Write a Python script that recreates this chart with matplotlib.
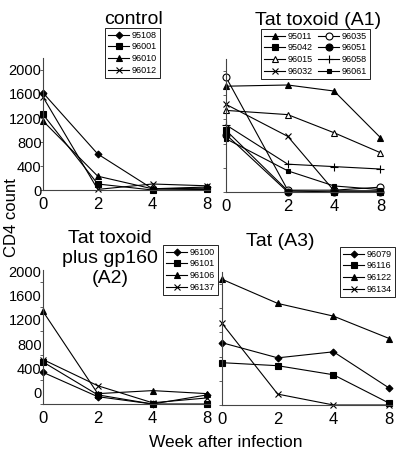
import matplotlib
matplotlib.use("Agg")
import matplotlib.pyplot as plt
from matplotlib.transforms import ScaledTranslation

plt.rcParams['font.family'] = ['Liberation Sans', 'DejaVu Sans']

weeks = ['0', '2', '4', '8']
yticks = [0, 400, 800, 1200, 1600, 2000]

# control
control_ids = ['95108', '96001', '96010', '96012']
c_95108 = [1620, 600, 20, 50]
c_96001 = [1260, 100, 0, 10]
c_96010 = [1150, 230, 20, 30]
c_96012 = [1550, 10, 100, 70]

# Tat toxoid (A1)
a1_ids = ['95011', '95042', '96015', '96032', '96035', '96051', '96058', '96061']
a1_95011 = [1750, 1770, 1670, 900]
a1_95042 = [1020, 20, 0, 0]
a1_96015 = [1350, 1280, 980, 650]
a1_96032 = [1450, 920, 20, 20]
a1_96035 = [1900, 30, 30, 80]
a1_96051 = [950, 0, 0, 0]
a1_96058 = [1110, 460, 420, 380]
a1_96061 = [880, 350, 100, 40]

# Tat toxoid plus gp160 (A2)
a2_ids = ['96100', '96101', '96106', '96137']
a2_96100 = [520, 120, 0, 150]
a2_96101 = [690, 150, 0, 0]
a2_96106 = [1520, 170, 220, 170]
a2_96137 = [730, 300, 20, 100]

# Tat (A3)
a3_ids = ['96079', '96116', '96122', '96134']
a3_96079 = [1030, 780, 880, 280]
a3_96116 = [700, 650, 500, 30]
a3_96122 = [2080, 1680, 1470, 1100]
a3_96134 = [1350, 180, 0, 0]

W, H = 411, 467
fig = plt.figure(figsize=(W / 100, H / 100), dpi=100)


def px_axes(x0, y0, x1, y1):
    return fig.add_axes([x0 / W, 1 - y1 / H, (x1 - x0) / W, (y1 - y0) / H])


# marker styles: (marker, size, facecolor)
four = [('D', 3.5, 'k'), ('s', 5, 'k'), ('^', 5, 'k'), ('x', 5, 'k')]
a1_styles = [('^', 5, 'k'), ('s', 5, 'k'), ('^', 5, 'w'), ('x', 5, 'k'),
             ('o', 5, 'w'), ('o', 5, 'k'), ('+', 6, 'k'), ('s', 2.5, 'k')]


def panel(ax, xpos, series, ids, styles):
    for vals, name, (m, ms, fc) in zip(series, ids, styles):
        ax.plot(xpos, vals, color='k', lw=0.8, marker=m, ms=ms,
                mfc=fc, mec='k', mew=0.8, label=name, clip_on=False)
    ax.set_xlim(0, 3.05)
    ax.set_ylim(0, 2200)
    ax.set_xticks(xpos)
    ax.set_xticklabels(weeks)
    ax.set_yticks(yticks)
    for s in ['top', 'right']:
        ax.spines[s].set_visible(False)
    for s in ['left', 'bottom']:
        ax.spines[s].set_linewidth(0.8)
        ax.spines[s].set_color('#444444')
    ax.tick_params(axis='x', length=0, pad=5, labelsize=12)
    ax.tick_params(axis='y', length=2, width=0.6, labelsize=10.5, color='#444444')


def legend(ax, x, y, ncol=1):
    lg = ax.legend(loc='upper left', bbox_to_anchor=(x / W, 1 - y / H),
                   bbox_transform=fig.transFigure, borderaxespad=0,
                   ncol=ncol, fontsize=6.5, handlelength=2.4,
                   handletextpad=0.3, labelspacing=0.3, borderpad=0.3,
                   columnspacing=0.5, fancybox=False, framealpha=1,
                   edgecolor='k')
    lg.get_frame().set_linewidth(0.6)


even = [0, 1, 2, 3]

ax1 = px_axes(43, 58, 210, 190)
panel(ax1, even, [c_95108, c_96001, c_96010, c_96012], control_ids, four)
ax1.tick_params(axis='y', pad=-1)
legend(ax1, 105, 28)

ax2 = px_axes(226, 59, 383, 192)
a1_x = [0, 1.2, 2.1, 3]
panel(ax2, a1_x,
      [a1_95011, a1_95042, a1_96015, a1_96032, a1_96035, a1_96051, a1_96058, a1_96061],
      a1_ids, a1_styles)
ax2.set_xlim(0, 3.05)
ax2.set_yticklabels([])
legend(ax2, 261, 29, ncol=2)

ax3 = px_axes(43, 270, 210, 404)
panel(ax3, even, [a2_96100, a2_96101, a2_96106, a2_96137], a2_ids, four)
ax3.tick_params(axis='y', pad=-1)
shift = ScaledTranslation(0, 11 / 100, fig.dpi_scale_trans)
for lab in ax3.get_yticklabels():
    lab.set_transform(lab.get_transform() + shift)
legend(ax3, 163, 245)

ax4 = px_axes(222, 272, 392, 405)
panel(ax4, even, [a3_96079, a3_96116, a3_96122, a3_96134], a3_ids, four)
ax4.set_yticklabels([])
legend(ax4, 340, 247)

# titles
fig.text(133 / W, 1 - 24 / H, 'control', ha='center', va='baseline', fontsize=14)
fig.text(318 / W, 1 - 25 / H, 'Tat toxoid (A1)', ha='center', va='baseline', fontsize=14)
for txt, yb in zip(['Tat toxoid', 'plus gp160', '(A2)'], [243, 263, 283]):
    fig.text(110 / W, 1 - yb / H, txt, ha='center', va='baseline', fontsize=14)
fig.text(280 / W, 1 - 246 / H, 'Tat (A3)', ha='center', va='baseline', fontsize=14)

fig.text(11 / W, 1 - 218 / H, 'CD4 count', rotation=90, ha='center', va='center',
         fontsize=12)
fig.text(226 / W, 1 - 447 / H, 'Week after infection', ha='center', va='baseline',
         fontsize=12.5)

fig.savefig('out.png', dpi=100, facecolor='white')
